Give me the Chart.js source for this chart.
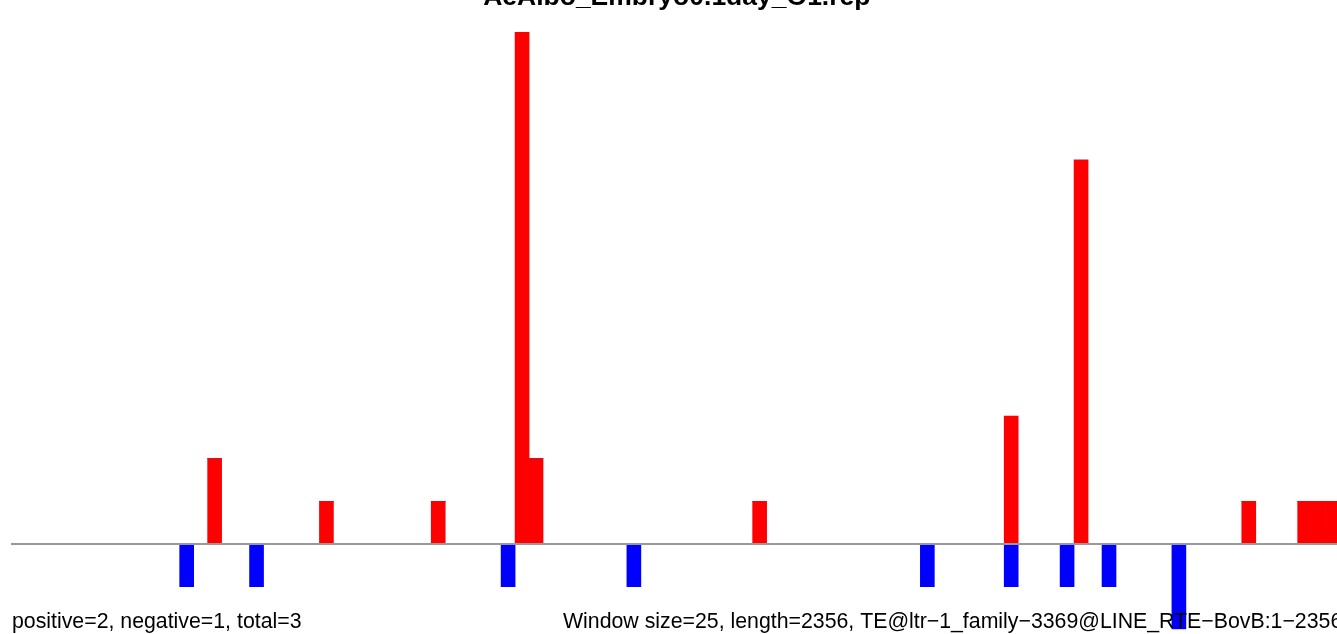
<!DOCTYPE html>
<html>
<head>
<meta charset="utf-8">
<script src="https://cdn.jsdelivr.net/npm/chart.js@4.4.1/dist/chart.umd.min.js"></script>
<style>
  html, body { margin: 0; padding: 0; background: #fff; overflow: hidden; }
  #wrap { position: relative; width: 1341px; height: 634px; }
</style>
</head>
<body>
<div id="wrap"><canvas id="repChart"></canvas></div>
<script>
// per-window read counts, one entry per 25bp window (95 windows over 2356bp)
const positiveCounts = [
  0, 0, 0, 0, 0, 0, 0, 0, 0, 0, 0, 0, 0, 0, 2, 0, 0, 0, 0, 0,
  0, 0, 1, 0, 0, 0, 0, 0, 0, 0, 1, 0, 0, 0, 0, 0, 12, 2, 0, 0,
  0, 0, 0, 0, 0, 0, 0, 0, 0, 0, 0, 0, 0, 1, 0, 0, 0, 0, 0, 0,
  0, 0, 0, 0, 0, 0, 0, 0, 0, 0, 0, 3, 0, 0, 0, 0, 9, 0, 0, 0,
  0, 0, 0, 0, 0, 0, 0, 0, 1, 0, 0, 0, 1, 1, 1
];
const negativeCounts = [
  0, 0, 0, 0, 0, 0, 0, 0, 0, 0, 0, 0, -1, 0, 0, 0, 0, -1, 0, 0,
  0, 0, 0, 0, 0, 0, 0, 0, 0, 0, 0, 0, 0, 0, 0, -1, 0, 0, 0, 0,
  0, 0, 0, 0, -1, 0, 0, 0, 0, 0, 0, 0, 0, 0, 0, 0, 0, 0, 0, 0,
  0, 0, 0, 0, 0, -1, 0, 0, 0, 0, 0, -1, 0, 0, 0, -1, 0, 0, -1, 0,
  0, 0, 0, -2, 0, 0, 0, 0, 0, 0, 0, 0, 0, 0, 0
];
const windowSize = 25;
const windowStarts = positiveCounts.map((v, i) => i * windowSize + 1);

const titleText = "AeAlbo_Embryo0.1day_O1.rep";
const summaryText = "positive=2, negative=1, total=3";
const infoText = "Window size=25, length=2356, TE@ltr\u22121_family\u22123369@LINE_RTE\u2212BovB:1\u22122356";

const textPlugin = {
  id: "textPlugin",
  afterDatasetsDraw(chart) {
    const ctx = chart.ctx;
    const y0 = chart.scales.y.getPixelForValue(0);

    // zero line
    ctx.save();
    ctx.strokeStyle = "#999999";
    ctx.lineWidth = 2;
    ctx.beginPath();
    ctx.moveTo(11, y0);
    ctx.lineTo(chart.width, y0);
    ctx.stroke();
    ctx.restore();
  },
  afterDraw(chart) {
    const ctx = chart.ctx;
    const area = chart.chartArea;
    ctx.save();
    ctx.fillStyle = "#000";
    ctx.textBaseline = "alphabetic";

    ctx.font = "bold 26.5px 'Liberation Sans', Arial, sans-serif";
    ctx.textAlign = "center";
    ctx.fillText(titleText, (area.left + area.right) / 2 + 1, 5);

    ctx.font = "21.3px 'Liberation Sans', Arial, sans-serif";
    ctx.textAlign = "left";
    ctx.fillText(summaryText, 12, 628);
    ctx.fillText(infoText, 563, 628);
    ctx.restore();
  }
};

const ctx = document.getElementById("repChart");

const myChart = new Chart(ctx, {
  type: "bar",
  data: {
    labels: windowStarts,
    datasets: [
      {
        label: "positive",
        data: positiveCounts,
        backgroundColor: "#ff0000",
        borderWidth: 0,
        barPercentage: 1,
        categoryPercentage: 1,
      },
      {
        label: "negative",
        data: negativeCounts,
        backgroundColor: "#0000ff",
        borderWidth: 0,
        barPercentage: 1,
        categoryPercentage: 1,
      },
    ],
  },
  options: {
    responsive: true,
    maintainAspectRatio: false,
    animation: false,
    layout: {
      padding: { left: 12, right: 1.4, top: 32, bottom: 4.7 },
    },
    scales: {
      x: { display: false, stacked: true, grid: { display: false } },
      y: { display: false, stacked: true, min: -2, max: 12, grid: { display: false } },
    },
    plugins: {
      legend: { display: false },
      tooltip: { enabled: false },
    },
  },
  plugins: [textPlugin],
});
</script>
</body>
</html>
